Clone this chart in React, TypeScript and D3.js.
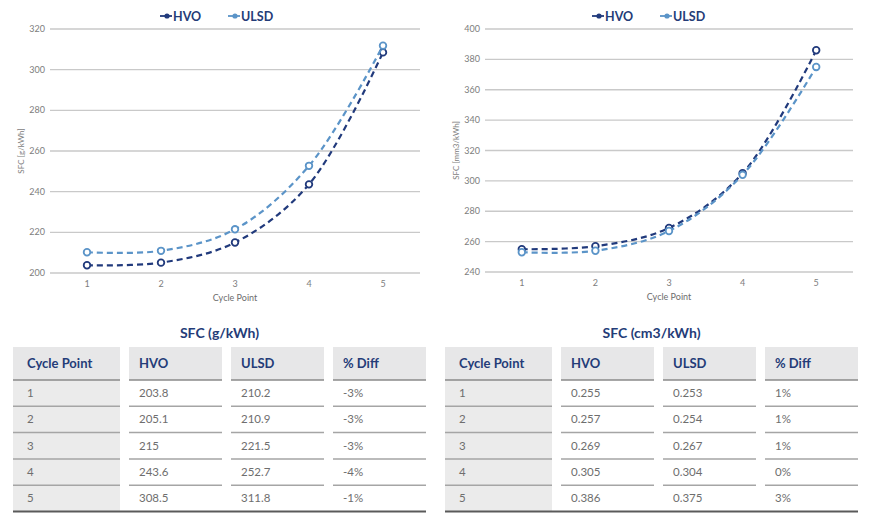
import React from "react";
import * as d3 from "d3";

const cyclePoints = [1, 2, 3, 4, 5];
const hvoG = [203.8, 205.1, 215, 243.6, 308.5];
const ulsdG = [210.2, 210.9, 221.5, 252.7, 311.8];
const diffG = ["-3%", "-3%", "-3%", "-4%", "-1%"];
const hvoCm = [0.255, 0.257, 0.269, 0.305, 0.386];
const ulsdCm = [0.253, 0.254, 0.267, 0.304, 0.375];
const diffCm = ["1%", "1%", "1%", "0%", "3%"];
const hvoMm = [255, 257, 269, 305, 386];
const ulsdMm = [253, 254, 267, 304, 375];
const ticksG = [200, 220, 240, 260, 280, 300, 320];
const ticksMm = [240, 260, 280, 300, 320, 340, 360, 380, 400];
const seriesNames = ["HVO", "ULSD"];
const tableHeaders = ["Cycle Point", "HVO", "ULSD", "% Diff"];

const NAVY = "#213a7c";
const LIGHT = "#5b94c8";
const TEXT_NAVY = "#243c78";
const FONT = "Lato, 'Open Sans', sans-serif";

type ChartProps = {
  x0: number; x1: number; yTop: number; yBottom: number;
  ticks: number[]; hvo: number[]; ulsd: number[]; yTitle: string;
  legendX: number; titleX: number;
};

function LineChart(p: ChartProps) {
  const x = d3.scaleBand<number>().domain(cyclePoints).range([p.x0, p.x1]);
  const y = d3.scaleLinear().domain([p.ticks[0], p.ticks[p.ticks.length - 1]]).range([p.yBottom, p.yTop]);
  const cx = (c: number) => (x(c) as number) + x.bandwidth() / 2;
  const line = d3.line<number>()
    .x((_, i) => cx(cyclePoints[i]))
    .y((v) => y(v))
    .curve(d3.curveCatmullRom.alpha(0.5));
  const series = [
    { name: seriesNames[0], vals: p.hvo, color: NAVY },
    { name: seriesNames[1], vals: p.ulsd, color: LIGHT },
  ];
  const legendOffsets = [0, 68];
  return (
    <g>
      {p.ticks.map((t) => (
        <g key={t}>
          <line x1={p.x0} x2={p.x1} y1={y(t)} y2={y(t)} stroke="#c9c9c9" strokeWidth={1.3} />
          <text x={p.x0 - 5} y={y(t) + 3} textAnchor="end" fontSize={9} fill="#7d7d7d" fontFamily={FONT}>{t}</text>
        </g>
      ))}
      {cyclePoints.map((c) => (
        <text key={c} x={cx(c)} y={p.yBottom + 14} textAnchor="middle" fontSize={9} fill="#7d7d7d" fontFamily={FONT}>{c}</text>
      ))}
      <text x={(p.x0 + p.x1) / 2} y={p.yBottom + 28} textAnchor="middle" fontSize={9} fill="#6d6d6d" fontFamily={FONT}>Cycle Point</text>
      <text transform={`translate(${p.titleX},${(p.yTop + p.yBottom) / 2}) rotate(-90)`} textAnchor="middle" fontSize={8} fill="#7d7d7d" fontFamily={FONT}>{p.yTitle}</text>
      {series.map((s) => (
        <g key={s.name}>
          <path d={line(s.vals) || ""} fill="none" stroke={s.color} strokeWidth={2.2} strokeDasharray="6 4" />
          {s.vals.map((v, i) => (
            <circle key={i} cx={cx(cyclePoints[i])} cy={y(v)} r={3.3} fill="#fff" stroke={s.color} strokeWidth={1.8} />
          ))}
        </g>
      ))}
      {series.map((s, i) => {
        const lx = p.legendX + legendOffsets[i];
        return (
          <g key={"lg" + s.name}>
            <line x1={lx} x2={lx + 12} y1={16} y2={16} stroke={s.color} strokeWidth={1.8} />
            <circle cx={lx + 7} cy={16} r={2.6} fill={s.color} />
            <text x={lx + 13} y={20.5} fontSize={12.5} fontWeight={700} fill={TEXT_NAVY} fontFamily={FONT}>{s.name}</text>
          </g>
        );
      })}
    </g>
  );
}

type TableProps = { cols: number[]; title: string; hvo: number[]; ulsd: number[]; diff: string[] };

function DataTable(p: TableProps) {
  const colW = 93;
  const firstW = 107;
  const headerTop = 347;
  const headerBottom = 380;
  const rowY = d3.scaleBand<number>().domain(cyclePoints).range([headerBottom, 511.5]);
  const widths = [firstW, colW, colW, colW];
  const left = p.cols[0];
  const right = p.cols[3] + colW;
  const rows = cyclePoints.map((c, i) => [String(c), String(p.hvo[i]), String(p.ulsd[i]), p.diff[i]]);
  return (
    <g>
      <text x={(left + right) / 2} y={338} textAnchor="middle" fontSize={14} fontWeight={700} fill={TEXT_NAVY} fontFamily={FONT}>{p.title}</text>
      {tableHeaders.map((h, j) => (
        <g key={h}>
          <rect x={p.cols[j]} y={headerTop} width={widths[j]} height={headerBottom - headerTop} fill="#e7e7e8" />
          <text x={p.cols[j] + (j === 0 ? 14 : 10)} y={368} fontSize={13} fontWeight={700} fill={TEXT_NAVY} fontFamily={FONT}>{h}</text>
        </g>
      ))}
      <rect x={p.cols[0]} y={headerBottom} width={firstW} height={511.5 - headerBottom} fill="#ebebeb" />
      {rows.map((r, i) => {
        const yy = rowY(cyclePoints[i]) as number;
        const h = rowY.bandwidth();
        return (
          <g key={i}>
            {r.map((v, j) => (
              <g key={j}>
                <line x1={p.cols[j]} x2={p.cols[j] + widths[j]} y1={yy} y2={yy} stroke={i === 0 ? "#8a8a8a" : "#a5a5a5"} strokeWidth={1.5} />
                <text x={p.cols[j] + (j === 0 ? 14 : 10)} y={yy + h / 2 + 4} fontSize={11.5} fill="#6e6e6e" fontFamily={FONT}>{v}</text>
              </g>
            ))}
          </g>
        );
      })}
      <line x1={left} x2={right} y1={511.5} y2={511.5} stroke="#5a5a5a" strokeWidth={2} />
    </g>
  );
}

export default function App() {
  return (
    <svg width={870} height={515} style={{ position: "absolute", left: 0, top: 0, background: "#fff" }}>
      <rect width={870} height={515} fill="#fff" />
      <LineChart x0={50} x1={420} yTop={29} yBottom={273} ticks={ticksG} hvo={hvoG} ulsd={ulsdG} yTitle="SFC [g/kWh]" legendX={160} titleX={24} />
      <LineChart x0={485} x1={853} yTop={29} yBottom={272} ticks={ticksMm} hvo={hvoMm} ulsd={ulsdMm} yTitle="SFC [mm3/kWh]" legendX={592} titleX={459} />
      <DataTable cols={[13, 129, 231, 333]} title="SFC (g/kWh)" hvo={hvoG} ulsd={ulsdG} diff={diffG} />
      <DataTable cols={[445, 561, 663, 765]} title="SFC (cm3/kWh)" hvo={hvoCm} ulsd={ulsdCm} diff={diffCm} />
    </svg>
  );
}
